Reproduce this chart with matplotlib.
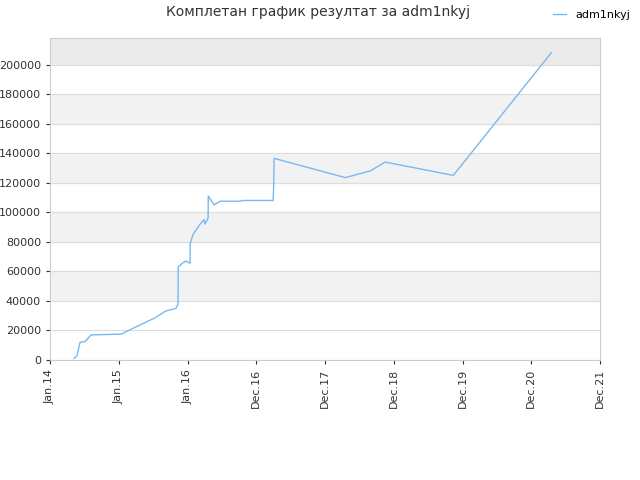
import matplotlib
matplotlib.use("Agg")
import matplotlib.pyplot as plt
import matplotlib.dates as mdates
import numpy as np
import pandas as pd

DATES = [
    "2014-05-07", "2014-05-23", "2014-06-08", "2014-07-04", "2014-08-05",
    "2015-01-09", "2015-06-11", "2015-07-07", "2015-08-29", "2015-10-26",
    "2015-11-05", "2015-11-06", "2015-12-02", "2015-12-17", "2016-01-07",
    "2016-01-08", "2016-01-23", "2016-02-29", "2016-03-21", "2016-03-25",
    "2016-04-11", "2016-04-12", "2016-05-13", "2016-06-13", "2016-09-27",
    "2016-10-07", "2017-03-19", "2017-03-22", "2017-03-24", "2018-04-02",
    "2018-08-11", "2018-10-29", "2019-10-22", "2021-03-20",
]
VALUES = [
    1000, 3000, 12000, 12500, 17000,
    17500, 27000, 28500, 33000, 35000,
    38000, 63000, 66000, 67000, 65500,
    79000, 85000, 92000, 95000, 92000,
    96000, 111000, 105000, 107500, 107500,
    108000, 108000, 120000, 136500, 123500,
    128000, 134000, 125000, 208000,
]
TICK_LABELS = ["Jan.14", "Jan.15", "Jan.16", "Dec.16", "Dec.17",
               "Dec.18", "Dec.19", "Dec.20", "Dec.21"]
SERIES = "adm1nkyj"
TITLE = "Комплетан график резултат за adm1nkyj"

x = pd.to_datetime(DATES)
start = mdates.date2num(pd.Timestamp("2014-01-01"))
end = mdates.date2num(pd.Timestamp("2021-12-01"))

fig = plt.figure(figsize=(6.4, 4.8), dpi=100)
ax = fig.add_axes([50 / 640, 120 / 480, 550 / 640, 322 / 480])
ymax = 218000
for lo in range(40000, 200000, 40000):
    ax.axhspan(lo, lo + 20000, color="#f2f2f2", zorder=0)
ax.axhspan(200000, ymax, color="#ebebeb", zorder=0)
ax.yaxis.grid(True, color="#dddddd", lw=0.8)
ax.set_axisbelow(True)

ax.plot(mdates.date2num(x), VALUES, color="#7ab8f0", lw=1, label=SERIES)
ax.set_xlim(start, end)
ax.set_ylim(0, ymax)
ax.set_yticks(range(0, 200001, 20000))
ax.set_xticks(np.linspace(start, end, len(TICK_LABELS)))
ax.set_xticklabels(TICK_LABELS, rotation=90)
ax.tick_params(labelsize=8, colors="#333333", length=3)
for s in ax.spines.values():
    s.set_color("#cccccc")

fig.text(318 / 640, 1 - 12 / 480, TITLE, ha="center", va="center",
         fontsize=10, color="#333333")
fig.legend(loc="upper right", bbox_to_anchor=(1.0, 1.0), frameon=False,
           fontsize=8, handlelength=1.2)
fig.savefig("out.png")
